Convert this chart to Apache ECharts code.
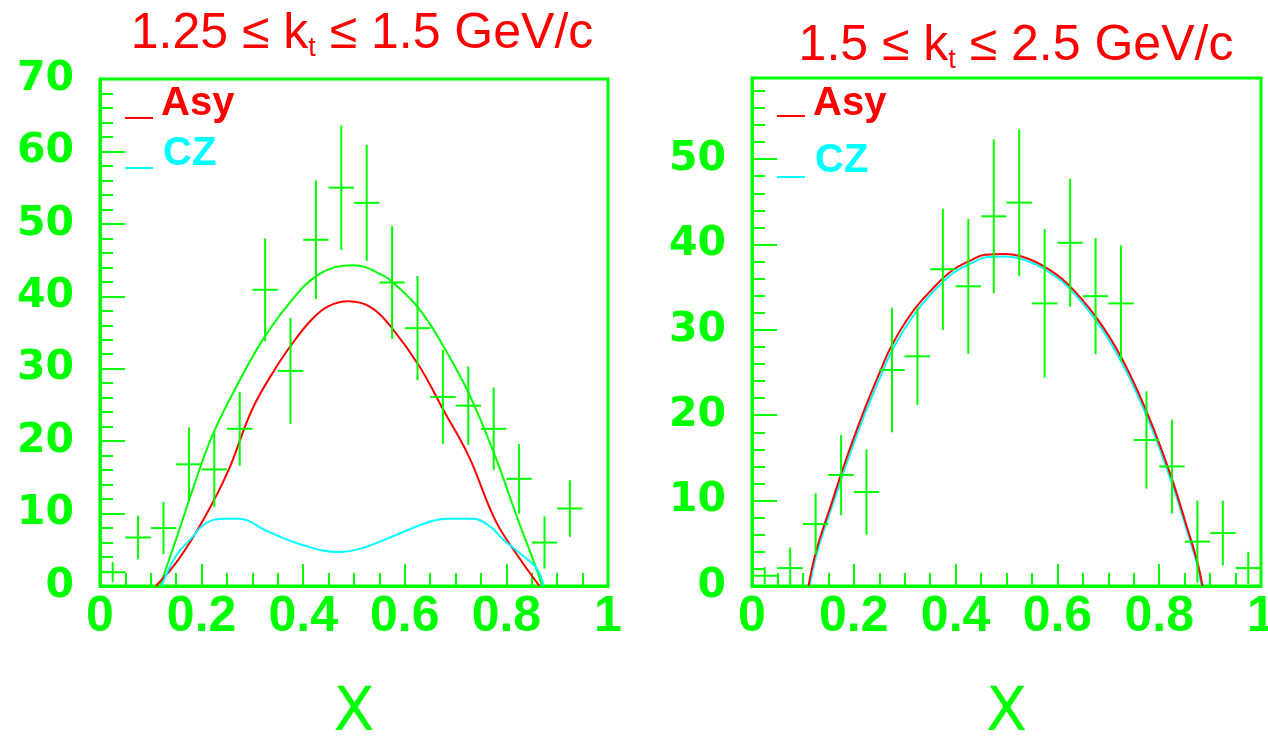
<!DOCTYPE html>
<html>
<head>
<meta charset="utf-8">
<title>kt bins</title>
<script src="https://cdn.jsdelivr.net/npm/echarts@6/dist/echarts.min.js"></script>
<style>
html, body { margin: 0; padding: 0; background: #fff; }
#main { width: 1268px; height: 744px; }
</style>
</head>
<body>
<div id="main"></div>
<script>
// 数据：两个 kt 区间
var titles = ['1.25 ≤ k{t|t} ≤ 1.5 GeV/c', '1.5 ≤ k{t|t} ≤ 2.5 GeV/c'];
var binHalfWidth = 0.025;

// 左图：测量点 (x 中心, 数值, 误差)
var leftX = [0.025, 0.075, 0.125, 0.175, 0.225, 0.275, 0.325, 0.375, 0.425, 0.475,
             0.525, 0.575, 0.625, 0.675, 0.725, 0.775, 0.825, 0.875, 0.925];
var leftY = [1.9, 6.7, 8.0, 16.8, 16.1, 21.7, 40.9, 29.7, 47.8, 55.0,
             52.9, 41.9, 35.6, 26.1, 24.9, 21.7, 14.8, 6.0, 10.7];
var leftErr = [1.4, 3.0, 3.6, 5.1, 5.2, 5.1, 7.1, 7.3, 8.2, 8.6,
               8.0, 7.8, 7.2, 6.5, 5.4, 5.7, 4.8, 3.6, 3.9];

// 左图：曲线
var leftAsy = [[0.110, 0], [0.154, 3.6], [0.207, 9.6], [0.253, 16.0], [0.299, 24.3], [0.344, 29.9],
               [0.384, 34.0], [0.417, 36.8], [0.449, 38.6], [0.489, 39.3], [0.535, 38.4], [0.577, 35.4],
               [0.629, 30.3], [0.676, 24.3], [0.726, 17.9], [0.778, 9.1], [0.823, 4.1], [0.865, 0]];
var leftCZ = [[0.121, 0], [0.150, 4.2], [0.180, 6.6], [0.200, 8.2], [0.222, 9.1], [0.250, 9.3],
              [0.272, 9.3], [0.331, 7.5], [0.397, 5.7], [0.469, 4.7], [0.515, 5.2], [0.574, 6.8],
              [0.650, 8.9], [0.682, 9.3], [0.735, 9.3], [0.768, 8.2], [0.794, 6.4], [0.827, 4.5],
              [0.860, 2.4], [0.873, 0]];
var leftSum = [[0.118, 0], [0.150, 6.5], [0.180, 12.8], [0.220, 20.6], [0.272, 28.0], [0.325, 34.5],
               [0.384, 40.0], [0.430, 43.0], [0.476, 44.2], [0.500, 44.3], [0.554, 43.0], [0.577, 41.9],
               [0.629, 38.2], [0.676, 33.1], [0.726, 26.6], [0.778, 17.9], [0.823, 9.1], [0.860, 2.2],
               [0.870, 0]];

// 右图：测量点
var rightX = [0.025, 0.075, 0.125, 0.175, 0.225, 0.275, 0.325, 0.375, 0.425, 0.475,
              0.525, 0.575, 0.625, 0.675, 0.725, 0.775, 0.825, 0.875, 0.925, 0.975];
var rightY = [1.2, 2.1, 7.25, 13.0, 11.0, 25.3, 26.9, 37.1, 35.1, 43.3,
              44.9, 33.1, 40.2, 33.95, 33.1, 17.1, 14.0, 5.2, 6.2, 2.1];
var rightErr = [1.0, 2.4, 3.6, 4.7, 5.0, 7.3, 5.7, 7.1, 7.9, 9.0,
                8.6, 8.7, 7.5, 6.8, 6.8, 5.7, 5.5, 4.8, 3.8, 1.9];

// 右图：曲线
var rightAsy = [[0.111, 0], [0.127, 4.3], [0.157, 9.8], [0.183, 14.5], [0.216, 19.9], [0.248, 24.6],
                [0.274, 28.1], [0.314, 32.0], [0.353, 34.7], [0.392, 36.9], [0.432, 38.2], [0.458, 38.8],
                [0.500, 38.9], [0.530, 38.6], [0.572, 37.5], [0.618, 35.5], [0.677, 31.4], [0.728, 26.5],
                [0.779, 19.9], [0.823, 12.9], [0.854, 7.0], [0.875, 2.8], [0.885, 0]];
var rightCZ = [[0.113, 0], [0.129, 4.2], [0.159, 9.6], [0.185, 14.2], [0.218, 19.6], [0.250, 24.2],
               [0.276, 27.7], [0.316, 31.6], [0.355, 34.4], [0.394, 36.6], [0.434, 37.9], [0.460, 38.5],
               [0.500, 38.6], [0.530, 38.3], [0.572, 37.2], [0.618, 35.2], [0.677, 31.0], [0.728, 26.0],
               [0.779, 19.4], [0.823, 12.4], [0.854, 6.6], [0.875, 2.4], [0.883, 0]];

var GREEN = '#00ff00', RED = '#ff0000', CYAN = '#00ffff';

function rows(xs, ys, es) {
    return xs.map(function (x, i) { return [x, ys[i], es[i]]; });
}

// 误差十字
function renderCross(params, api) {
    var x = api.value(0), y = api.value(1), e = api.value(2);
    var lo = api.coord([x, Math.max(0, y - e)]), hi = api.coord([x, y + e]);
    var l = api.coord([x - binHalfWidth, y]), r = api.coord([x + binHalfWidth, y]);
    var st = { stroke: GREEN, lineWidth: 2 };
    return {
        type: 'group',
        children: [
            { type: 'line', shape: { x1: lo[0], y1: lo[1], x2: hi[0], y2: hi[1] }, style: st },
            { type: 'line', shape: { x1: l[0], y1: l[1], x2: r[0], y2: r[1] }, style: st }
        ]
    };
}

function xAxisFor(gi) {
    return {
        type: 'value', gridIndex: gi, min: 0, max: 1, interval: 0.2,
        axisLine: { show: true, onZero: false, lineStyle: { color: GREEN, width: 3 } },
        axisTick: { show: true, inside: true, length: 22, lineStyle: { color: GREEN, width: 2 } },
        minorTick: { show: true, splitNumber: 4, length: 13, lineStyle: { color: GREEN, width: 2 } },
        splitLine: { show: false },
        axisLabel: { color: GREEN, fontFamily: 'Liberation Sans', fontWeight: 'bold', fontSize: 50, margin: 6 },
        name: 'X', nameLocation: 'middle', nameGap: 98,
        nameTextStyle: { color: GREEN, fontFamily: 'DejaVu Sans', fontSize: 60 }
    };
}

function yAxisFor(gi, ymax) {
    return {
        type: 'value', gridIndex: gi, min: 0, max: ymax, interval: 10,
        axisLine: { show: true, onZero: false, lineStyle: { color: GREEN, width: 3 } },
        axisTick: { show: true, inside: true, length: 25, lineStyle: { color: GREEN, width: 2 } },
        minorTick: { show: true, splitNumber: 5, length: 13, lineStyle: { color: GREEN, width: 2 } },
        splitLine: { show: false },
        axisLabel: { color: GREEN, fontFamily: 'DejaVu Sans', fontWeight: 'bold', fontSize: 41, margin: 26, showMaxLabel: ymax % 10 === 0 }
    };
}

function titleFor(i, cx, top) {
    return {
        text: titles[i], left: cx, top: top, textAlign: 'center', padding: 0,
        textStyle: {
            color: RED, fontFamily: 'Liberation Sans', fontWeight: 'normal', fontSize: 50,
            rich: { t: { color: RED, fontFamily: 'Liberation Sans', fontSize: 27, padding: [29, 0, 0, 0] } }
        }
    };
}

function curve(name, data, gi, color) {
    return {
        name: name, type: 'line', xAxisIndex: gi, yAxisIndex: gi, data: data,
        smooth: 0.4, showSymbol: false, silent: true,
        lineStyle: { color: color, width: 2 }, z: 2
    };
}

function legendText(x, y, text, color) {
    return { type: 'text', x: x, y: y, style: { text: text, fill: color, font: 'bold 40px "Liberation Sans"', verticalAlign: 'middle' } };
}
function legendLine(x, y, color) {
    return { type: 'rect', shape: { x: x, y: y, width: 28, height: 2 }, style: { fill: color } };
}

var chart = echarts.init(document.getElementById('main'), null, { renderer: 'canvas' });

var option = {
    backgroundColor: '#ffffff',
    animation: false,
    title: [titleFor(0, 362, 6), titleFor(1, 1016, 18)],
    grid: [
        { left: 100, top: 79, width: 508, height: 507, show: true, borderColor: GREEN, borderWidth: 3, outerBoundsMode: 'none', containLabel: false },
        { left: 752, top: 78, width: 509, height: 508, show: true, borderColor: GREEN, borderWidth: 3, outerBoundsMode: 'none', containLabel: false }
    ],
    xAxis: [xAxisFor(0), xAxisFor(1)],
    yAxis: [yAxisFor(0, 70), yAxisFor(1, 59.5)],
    series: [
        curve('Total', leftSum, 0, GREEN),
        curve('Asy', leftAsy, 0, RED),
        curve('CZ', leftCZ, 0, CYAN),
        curve('CZ', rightCZ, 1, CYAN),
        curve('Asy', rightAsy, 1, RED),
        {
            type: 'custom', xAxisIndex: 0, yAxisIndex: 0, renderItem: renderCross,
            data: rows(leftX, leftY, leftErr), encode: { x: 0, y: 1 }, z: 3, silent: true
        },
        {
            type: 'custom', xAxisIndex: 1, yAxisIndex: 1, renderItem: renderCross,
            data: rows(rightX, rightY, rightErr), encode: { x: 0, y: 1 }, z: 3, silent: true
        }
    ],
    graphic: [
        legendLine(125, 117, RED), legendText(161, 104, 'Asy', RED),
        legendLine(125, 167, CYAN), legendText(163, 154, 'CZ', CYAN),
        legendLine(777, 115, RED), legendText(813, 104, 'Asy', RED),
        legendLine(777, 176, CYAN), legendText(815, 161, 'CZ', CYAN)
    ]
};

chart.setOption(option);
window.addEventListener('resize', function () { chart.resize(); });
</script>
</body>
</html>
